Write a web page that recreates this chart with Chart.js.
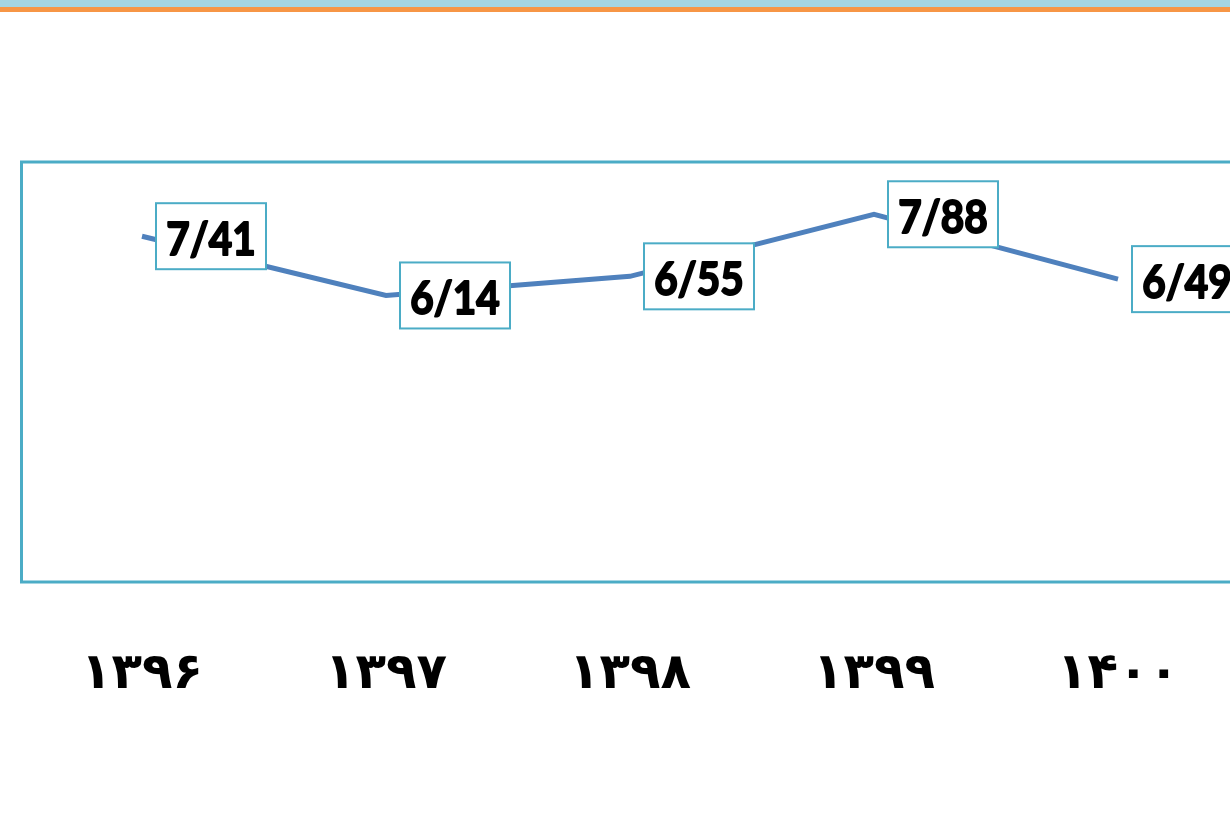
<!DOCTYPE html>
<html>
<head>
<meta charset="utf-8">
<script src="https://cdn.jsdelivr.net/npm/chart.js@4/dist/chart.umd.min.js"></script>
<style>
html,body{margin:0;padding:0;background:#fff;overflow:hidden;width:1230px;height:816px;}
#band{position:absolute;left:0;top:0;width:1230px;height:7px;background:#a5d5e2;}
#band2{position:absolute;left:0;top:7px;width:1230px;height:5px;background:#f79646;}
#wrap{position:absolute;left:0;top:0;width:1260px;height:816px;}
</style>
</head>
<body>
<div id="band"></div><div id="band2"></div>
<div id="wrap"><canvas id="c" width="1260" height="816"></canvas></div>
<script>
// سال‌ها و مقادیر
const years=["۱۳۹۶","۱۳۹۷","۱۳۹۸","۱۳۹۹","۱۴۰۰"];
const values=[7.41,6.14,6.55,7.88,6.49];
const valueLabels=["7/41","6/14","6/55","7/88","6/49"];
const yMin=0, yMax=9;

/* کادر ناحیه نمودار */
const frame={
id:"frame",
beforeDatasetsDraw(chart){
const a=chart.chartArea, ctx=chart.ctx;
ctx.save();
ctx.strokeStyle="#4bacc6";
ctx.lineWidth=3;
ctx.strokeRect(a.left+1.5,a.top,a.right-a.left,a.bottom-a.top);
ctx.restore();
}
};

/* برچسب مقادیر */
const boxLabels={
id:"boxLabels",
afterDatasetsDraw(chart){
const ctx=chart.ctx;
const pts=chart.getDatasetMeta(0).data;
ctx.save();
ctx.textAlign="center";
ctx.textBaseline="middle";
pts.forEach((p,i)=>{
let w=110,h=66;
let x=p.x+14, y=p.y-h/2;
ctx.fillStyle="#fff";
ctx.fillRect(x,y,w,h);
ctx.strokeStyle="#4bacc6";
ctx.lineWidth=2;
ctx.strokeRect(x,y,w,h);
ctx.save();
ctx.translate(x+w/2,p.y+4);
ctx.scale(0.88,1);
ctx.font="bold 46px Lato";
ctx.fillStyle="#000";
ctx.strokeStyle="#000";
ctx.lineWidth=2;
ctx.lineJoin="round";
ctx.strokeText(valueLabels[i],0,0);
ctx.fillText(valueLabels[i],0,0);
ctx.restore();
});
ctx.restore();
}
};

new Chart(document.getElementById("c"),{
type:"line",
data:{
labels:years,
datasets:[{data:values,borderColor:"#4f81bd",borderWidth:5,pointRadius:0,tension:0,clip:false}]
},
options:{
responsive:false,
animation:false,
layout:{padding:{left:20,right:20,top:162,bottom:0}},
plugins:{legend:{display:false},tooltip:{enabled:false}},
scales:{
y:{display:false,min:yMin,max:yMax},
x:{
offset:true,
grid:{display:false},
border:{display:false},
ticks:{color:"#000",padding:55,font:{family:"DejaVu Sans",size:50,weight:"bold"},maxRotation:0},
afterFit(s){s.height=816-582;}
}
}
},
plugins:[frame,boxLabels]
});
</script>
</body>
</html>
